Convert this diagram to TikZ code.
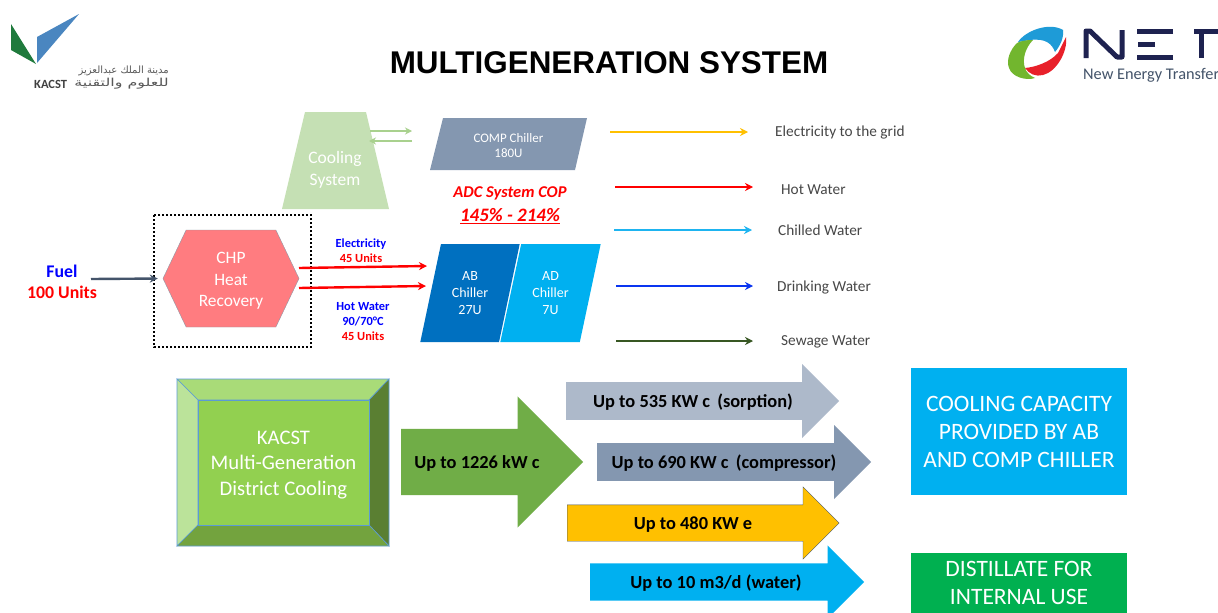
\documentclass[tikz,border=0pt]{standalone}
\usepackage{fontspec}
\setmainfont{Carlito}
\newfontfamily\titlefont{Liberation Sans}
\newfontfamily\arabicfont[Script=Arabic]{DejaVu Sans}
\TeXXeTstate=1
\usetikzlibrary{arrows.meta, positioning, shapes.geometric, shapes.symbols, shapes.arrows}

\newcommand{\fs}[2]{\fontsize{#1}{#2}\selectfont}

\definecolor{coolgreen}{HTML}{C5E0B4}
\definecolor{coolarrow}{HTML}{A9D18E}
\definecolor{compgray}{HTML}{8497B0}
\definecolor{lightgray}{HTML}{ADB9CA}
\definecolor{chpred}{HTML}{FF7C80}
\definecolor{abblue}{HTML}{0070C0}
\definecolor{adblue}{HTML}{00B0F0}
\definecolor{fuelgray}{HTML}{44546A}
\definecolor{sewgreen}{HTML}{385723}
\definecolor{navy}{HTML}{1E2250}
\definecolor{gold}{HTML}{FFC000}
\definecolor{chilledblue}{HTML}{1EB4F0}
\definecolor{drinkblue}{HTML}{0A35F0}
\definecolor{distgreen}{HTML}{00B050}
\definecolor{bevelmid}{HTML}{92D050}
\definecolor{beveltop}{HTML}{A9DB78}
\definecolor{bevelleft}{HTML}{BBE39A}
\definecolor{bevelright}{HTML}{5A7F32}
\definecolor{bevelbottom}{HTML}{73A33E}
\definecolor{bevelline}{HTML}{5B9BD5}
\definecolor{totalgreen}{HTML}{70AD47}
\definecolor{kacstgreen}{HTML}{1F7A3C}
\definecolor{kacstblue}{HTML}{4A86C0}
\definecolor{netblue}{HTML}{1E9BD7}
\definecolor{netred}{HTML}{E8202A}
\definecolor{netgreen}{HTML}{72B62E}

\tikzset{
    flow/.style={-{Stealth[length=8pt,width=8pt]}, line width=2.4pt},
    outlabel/.style={anchor=west, inner sep=0pt, text=black!72, font=\fs{15.3}{18}},
    smalllabel/.style={inner sep=0pt, align=center, font=\bfseries\fs{12.4}{15}},
    parallel/.style={trapezium, trapezium stretches=true, inner sep=0pt, text=white, align=center},
    shapetext/.style={inner sep=0pt, text=white, align=center},
    bigarrow/.style={single arrow, single arrow head indent=0pt, inner sep=0pt, anchor=tail, text height=18.5pt, text depth=18.5pt},
    arrowtext/.style={inner sep=0pt, font=\bfseries\fs{18.4}{22}},
    resultbox/.style={text=white, align=center, inner sep=0pt, font=\fs{23.5}{28}},
    bevel/.style={draw=bevelline, line width=0.6pt}
}

\begin{document}
\begin{tikzpicture}[x=1pt, y=-1pt]
    \clip (0,0) rectangle (1218,613);
    \fill[white] (0,0) rectangle (1218,613);

    % KACST logo
    \fill[kacstgreen] (11,24) -- (11,50) -- (36,64) -- cycle;
    \fill[kacstblue] (79,14) -- (37,37) -- (37,63) -- cycle;
    \node[anchor=east, inner sep=0pt, text=black!65, font=\fs{10}{13}] (logoa) at (169,71) {\arabicfont\beginR مدينة الملك عبدالعزيز\endR};
    \node[anchor=east, inner sep=0pt, text=black!65, font=\fs{11}{13}] (logob) at (169,84) {\scalebox{1.45}[1]{\arabicfont\beginR للعلوم والتقنية\endR}};
    \node[anchor=west, inner sep=0pt, text=black!75, font=\bfseries\fs{12.5}{13}] (logoc) at (34,84) {KACST};

    % NET logo
    \fill[netblue] (1018,42) .. controls (1026,30) and (1050,22) .. (1063,30) .. controls (1064,38) and (1060,46) .. (1055,52) .. controls (1052,44) and (1046,38) .. (1030,40) -- cycle;
    \fill[netred] (1066,37) .. controls (1068,52) and (1056,72) .. (1043,75) .. controls (1036,77) and (1029,74) .. (1025,68) .. controls (1036,67) and (1050,62) .. (1058,53) -- cycle;
    \fill[netgreen] (1033,40) .. controls (1026,40) and (1020,41) .. (1017,43) .. controls (1010,50) and (1006,60) .. (1009,68) .. controls (1012,77) and (1026,81) .. (1035,78) .. controls (1030,76) and (1026,72) .. (1025,68) .. controls (1022,60) and (1025,48) .. (1033,40);
    \draw[navy, line width=5pt, line join=round] (1086,58) -- (1086,31) -- (1090,31) -- (1117,57) -- (1122,57) -- (1122,30);
    \draw[navy, line width=5pt] (1173,31) -- (1137,31);
    \draw[navy, line width=5pt] (1155,44) -- (1138,44);
    \draw[navy, line width=5pt] (1173,57) -- (1137,57);
    \draw[navy, line width=5pt] (1194,31) -- (1218,31);
    \draw[navy, line width=5pt] (1201,31) -- (1201,58);
    \node[anchor=west, inner sep=0pt, text=fuelgray, font=\fs{16.3}{18}] (netname) at (1083,75) {New Energy Transfer};

    % Title
    \node[font=\titlefont\bfseries\fs{31.4}{36}] (title) at (609,63) {MULTIGENERATION SYSTEM};

    % Cooling system and compressor chiller
    \fill[coolgreen] (305,112) -- (366,112) -- (389,209) -- (282,209) -- cycle;
    \node[shapetext, font=\fs{17.5}{22}] (cooling) at (335,170) {Cooling\\System};
    \fill[compgray] (443,118) -- (587,118) -- (575,170) -- (430,170) -- cycle;
    \node[shapetext, font=\fs{13}{15}] (comp) at (508.5,146) {COMP Chiller\\180U};
    \coordinate (coolout) at (370,131);
    \coordinate (compin) at (412,131);
    \coordinate (compout) at (412,141);
    \coordinate (coolin) at (369,141);
    \draw[-{Stealth[length=7pt,width=7pt]}, coolarrow, line width=2.4pt] (coolout) -- (compin);
    \draw[-{Stealth[length=7pt,width=7pt]}, coolarrow, line width=2.4pt] (compout) -- (coolin);

    % COP
    \node[inner sep=0pt, text=red, font=\bfseries\itshape\fs{16.5}{18}] (cop) at (510,193) {ADC System COP};
    \node[inner sep=0pt, text=red, font=\bfseries\itshape\fs{19}{20}] (coprange) at (510,216.5) {\underline{145\% - 214\%}};

    % CHP
    \draw[black, line width=2pt, dash pattern=on 2pt off 2pt] (154,215) rectangle (311,347);
    \node[signal, signal to=east and west, signal pointer angle=129, fill=chpred, draw=fuelgray!60, minimum width=136, minimum height=97, inner sep=0pt] (chp) at (231,278.5) {};
    \node[shapetext, font=\fs{17.4}{21.5}] (chptext) at (231,281) {CHP\\Heat\\Recovery};
    \node[inner sep=0pt, align=center, font=\bfseries\fs{17.8}{21}] (fuel) at (62,281.5) {\textcolor{blue}{Fuel}\\\textcolor{red}{100 Units}};
    \coordinate (fueltail) at (91,279);
    \draw[flow, fuelgray, shorten >=5pt] (fueltail) -- (chp.west);

    % Chillers
    \node[parallel, trapezium left angle=73.3, trapezium right angle=106.7, fill=abblue, minimum width=100, minimum height=98, font=\fs{14}{17}] (ab) at (470,293) {AB\\Chiller\\27U};
    \node[parallel, trapezium left angle=73.3, trapezium right angle=106.7, fill=adblue, minimum width=101, minimum height=98, font=\fs{14}{17}] (ad) at (550.5,293) {AD\\Chiller\\7U};

    % Flows to the chillers
    \coordinate (elecout) at (299,268);
    \coordinate (elecin) at (427,266);
    \coordinate (hotout) at (299,288);
    \coordinate (hotin) at (426,286);
    \draw[flow, red] (elecout) -- (elecin);
    \draw[flow, red] (hotout) -- (hotin);
    \node[smalllabel] (elec) at (361,250.5) {\textcolor{blue}{Electricity}\\\textcolor{red}{45 Units}};
    \node[smalllabel] (hot) at (363,321.5) {\textcolor{blue}{Hot Water}\\\textcolor{blue}{90/70°C}\\\textcolor{red}{45 Units}};

    % Outputs
    \node[outlabel] (grid) at (775,133) {Electricity to the grid};
    \node[outlabel] (hotwater) at (781,190) {Hot Water};
    \node[outlabel] (chilled) at (778,230) {Chilled Water};
    \node[outlabel] (drinking) at (777,287) {Drinking Water};
    \node[outlabel] (sewage) at (781,342) {Sewage Water};
    \coordinate (gridtail) at (610,132);
    \coordinate (hottail) at (615,187);
    \coordinate (chilledtail) at (614,230);
    \coordinate (drinktail) at (616,286);
    \coordinate (sewtail) at (616,341);
    \draw[flow, gold, shorten >=27pt] (gridtail) -- (gridtail -| grid.west);
    \draw[flow, red, shorten >=28pt] (hottail) -- (hottail -| hotwater.west);
    \draw[flow, chilledblue, shorten >=26pt] (chilledtail) -- (chilledtail -| chilled.west);
    \draw[flow, drinkblue, shorten >=24pt] (drinktail) -- (drinktail -| drinking.west);
    \draw[flow, sewgreen, shorten >=28pt] (sewtail) -- (sewtail -| sewage.west);

    % KACST block
    \filldraw[bevel, fill=beveltop] (177,379) -- (389,379) -- (369,400) -- (198,400) -- cycle;
    \filldraw[bevel, fill=bevelleft] (177,379) -- (198,400) -- (198,525) -- (177,546) -- cycle;
    \filldraw[bevel, fill=bevelright] (389,379) -- (369,400) -- (369,525) -- (389,546) -- cycle;
    \filldraw[bevel, fill=bevelbottom] (177,546) -- (198,525) -- (369,525) -- (389,546) -- cycle;
    \filldraw[bevel, fill=bevelmid] (198,400) rectangle (369,525);
    \node[shapetext, font=\fs{20.7}{25.5}] (kacst) at (283.5,465) {KACST\\Multi-Generation\\District Cooling};

    % Block arrows
    \node[bigarrow, fill=totalgreen, minimum height=182, minimum width=131, text height=33pt, text depth=33pt, single arrow head extend=32.5pt] (total) at (401,462) {};
    \node[arrowtext] (totaltext) at (477,463) {Up to 1226 kW c};
    \node[bigarrow, fill=lightgray, minimum height=273, minimum width=74, single arrow head extend=18pt] (sorption) at (566,401) {};
    \node[arrowtext] (sorptiontext) at (693,402.5) {Up to 535 KW c\, (sorption)};
    \node[bigarrow, fill=compgray, minimum height=274, minimum width=74, single arrow head extend=18pt] (compressor) at (597,462) {};
    \node[arrowtext] (compressortext) at (724,463) {Up to 690 KW c\, (compressor)};
    \node[bigarrow, fill=gold, draw=fuelgray, minimum height=272, minimum width=72, text height=18pt, text depth=18pt, single arrow head extend=18pt] (power) at (567,523) {};
    \node[arrowtext] (powertext) at (693,525) {Up to 480 KW e};
    \node[bigarrow, fill=adblue, minimum height=274, minimum width=73, single arrow head extend=18pt] (water) at (590,582) {};
    \node[arrowtext] (watertext) at (716,583) {Up to 10 m3/d (water)};

    % Result boxes
    \node[resultbox, fill=adblue, minimum width=216, minimum height=127] (capacity) at (1019,431.5) {COOLING CAPACITY\\PROVIDED BY AB\\AND COMP CHILLER};
    \node[resultbox, fill=distgreen, minimum width=216, minimum height=60] (distillate) at (1019,583) {DISTILLATE FOR\\INTERNAL USE};
\end{tikzpicture}
\end{document}
